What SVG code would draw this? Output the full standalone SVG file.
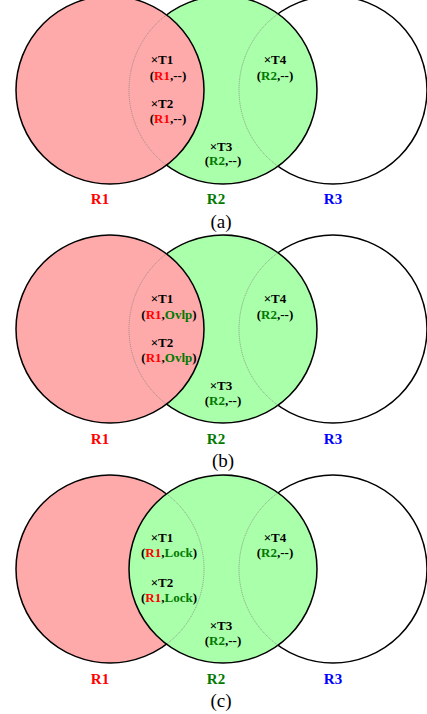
<svg xmlns="http://www.w3.org/2000/svg" width="427" height="714" viewBox="0 0 427 714">
<style>
.bg{fill:#ffffff}
.c{stroke:#000;stroke-width:1.5}
.p{fill:#ffaaaa}
.g{fill:#aaffaa}
.w{fill:#ffffff}
.thin{fill:none;stroke:#777;stroke-width:0.6;stroke-dasharray:1.2 0.8}
text{font-family:"Liberation Serif","Times New Roman",serif}
.t{font-size:13px;font-weight:bold;fill:#000;text-anchor:middle}
.lb{font-size:15px;font-weight:bold;text-anchor:middle}
.cap{font-size:19px;fill:#000;text-anchor:middle}
.red{fill:#ff0000}
.grn{fill:#007a00}
</style>
<rect class="bg" x="0" y="0" width="427" height="714"/>

<!-- Panel (a) -->
<g id="panel-a">
  <g id="a-R3"><circle class="c w" cx="333" cy="90" r="94"/></g>
  <g id="a-R2"><circle class="c g" cx="223" cy="90" r="94"/></g>
  <g id="a-R1"><circle class="c p" cx="110" cy="90" r="94"/></g>
  <g id="a-hidden">
    <path class="thin" d="M166.5,14.87 A94,94 0 0 0 166.5,165.13"/>
    <path class="thin" d="M278,13.77 A94,94 0 0 0 278,166.23"/>
  </g>
  <g id="a-T1"><text class="t" x="162" y="64">×T1</text><text class="t" x="168" y="80">(<tspan class="red">R1</tspan>,--)</text></g>
  <g id="a-T2"><text class="t" x="162" y="108">×T2</text><text class="t" x="168" y="123">(<tspan class="red">R1</tspan>,--)</text></g>
  <g id="a-T3"><text class="t" x="221" y="151">×T3</text><text class="t" x="223" y="165">(<tspan class="grn">R2</tspan>,--)</text></g>
  <g id="a-T4"><text class="t" x="275" y="64">×T4</text><text class="t" x="275" y="80">(<tspan class="grn">R2</tspan>,--)</text></g>
  <text class="lb red" x="100" y="204">R1</text>
  <text class="lb grn" x="216" y="204">R2</text>
  <text class="lb" x="333" y="204" fill="#0000ff">R3</text>
  <text class="cap" x="221" y="228">(a)</text>
</g>

<!-- Panel (b) -->
<g id="panel-b" transform="translate(0,239)">
  <g id="b-R3"><circle class="c w" cx="333" cy="90" r="94"/></g>
  <g id="b-R2"><circle class="c g" cx="223" cy="90" r="94"/></g>
  <g id="b-R1"><circle class="c p" cx="110" cy="90" r="94"/></g>
  <g id="b-hidden">
    <path class="thin" d="M166.5,14.87 A94,94 0 0 0 166.5,165.13"/>
    <path class="thin" d="M278,13.77 A94,94 0 0 0 278,166.23"/>
  </g>
  <g id="b-T1"><text class="t" x="162" y="64">×T1</text><text class="t" x="169" y="80">(<tspan class="red">R1</tspan>,<tspan class="grn">Ovlp</tspan>)</text></g>
  <g id="b-T2"><text class="t" x="162" y="108">×T2</text><text class="t" x="169" y="123">(<tspan class="red">R1</tspan>,<tspan class="grn">Ovlp</tspan>)</text></g>
  <g id="b-T3"><text class="t" x="221" y="151">×T3</text><text class="t" x="223" y="166">(<tspan class="grn">R2</tspan>,--)</text></g>
  <g id="b-T4"><text class="t" x="275" y="64">×T4</text><text class="t" x="275" y="80">(<tspan class="grn">R2</tspan>,--)</text></g>
  <text class="lb red" x="100" y="205">R1</text>
  <text class="lb grn" x="216" y="205">R2</text>
  <text class="lb" x="333" y="205" fill="#0000ff">R3</text>
  <text class="cap" x="223" y="228">(b)</text>
</g>

<!-- Panel (c) -->
<g id="panel-c" transform="translate(0,479)">
  <g id="c-R1"><circle class="c p" cx="110" cy="90" r="94"/></g>
  <g id="c-R3"><circle class="c w" cx="333" cy="90" r="94"/></g>
  <g id="c-R2"><circle class="c g" cx="223" cy="90" r="94"/></g>
  <g id="c-hidden">
    <path class="thin" d="M166.5,14.87 A94,94 0 0 1 166.5,165.13"/>
    <path class="thin" d="M278,13.77 A94,94 0 0 0 278,166.23"/>
  </g>
  <g id="c-T1"><text class="t" x="162" y="63">×T1</text><text class="t" x="169" y="78">(<tspan class="red">R1</tspan>,<tspan class="grn">Lock</tspan>)</text></g>
  <g id="c-T2"><text class="t" x="162" y="108">×T2</text><text class="t" x="169" y="123">(<tspan class="red">R1</tspan>,<tspan class="grn">Lock</tspan>)</text></g>
  <g id="c-T3"><text class="t" x="221" y="151">×T3</text><text class="t" x="223" y="166">(<tspan class="grn">R2</tspan>,--)</text></g>
  <g id="c-T4"><text class="t" x="275" y="63">×T4</text><text class="t" x="275" y="78">(<tspan class="grn">R2</tspan>,--)</text></g>
  <text class="lb red" x="100" y="205">R1</text>
  <text class="lb grn" x="216" y="205">R2</text>
  <text class="lb" x="333" y="205" fill="#0000ff">R3</text>
  <text class="cap" x="221" y="228">(c)</text>
</g>
</svg>
